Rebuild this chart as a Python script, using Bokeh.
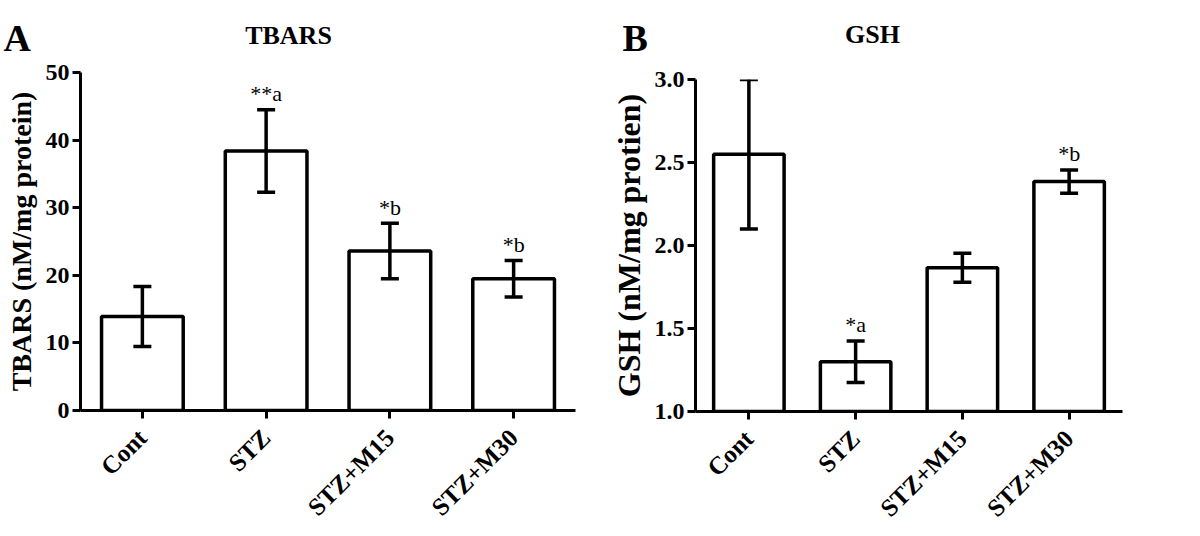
import math
from bokeh.plotting import figure
from bokeh.models import ColumnDataSource, Whisker, TeeHead, FactorRange, Range1d, FixedTicker
from bokeh.layouts import row, column
from bokeh.embed import file_html
from bokeh.resources import INLINE

groups = ["Cont", "STZ", "STZ+M15", "STZ+M30"]
tbars_mean = [13.9, 38.4, 23.6, 19.5]
tbars_sem = [4.45, 6.1, 4.1, 2.7]
tbars_sig = ["", "**a", "*b", "*b"]
gsh_mean = [2.55, 1.30, 1.866, 2.385]
gsh_sem = [0.45, 0.125, 0.087, 0.07]
gsh_sig = ["", "*a", "", "*b"]
tbars_ticks = [0, 10, 20, 30, 40, 50]
gsh_ticks = [1.0, 1.5, 2.0, 2.5, 3.0]

panel_letters = ["A", "B"]
panel_titles = ["TBARS", "GSH"]

FONT = "Liberation Serif"
HEADER_H = 58
MAIN_H = 477


def panel(mean, sem, sig, ticks, ylabel, ylabel_size, width, height,
          bl, br, bt, bb, tick_fmt, label_standoff):
    lower = [m - s for m, s in zip(mean, sem)]
    upper = [m + s for m, s in zip(mean, sem)]
    src = ColumnDataSource(dict(g=groups, mean=mean, lower=lower, upper=upper, sig=sig))
    p = figure(width=width, height=height, x_range=FactorRange(factors=groups),
               y_range=Range1d(ticks[0], ticks[-1]), output_backend="svg",
               toolbar_location=None, min_border_left=bl, min_border_right=br,
               min_border_top=bt, min_border_bottom=bb, frame_align=False)
    p.outline_line_color = None
    p.xgrid.grid_line_color = None
    p.ygrid.grid_line_color = None
    p.x_range.range_padding = 0
    p.vbar(x="g", top="mean", bottom=ticks[0], width=0.66, source=src,
           fill_color="white", line_color="black", line_width=3.5)
    w = Whisker(base="g", upper="upper", lower="lower", source=src,
                line_color="black", line_width=3.5, level="overlay",
                upper_head=TeeHead(size=18, line_width=3.5, line_color="black"),
                lower_head=TeeHead(size=18, line_width=3.5, line_color="black"))
    p.add_layout(w)
    p.text(x="g", y="upper", text="sig", source=src, y_offset=-16,
           text_align="center", text_baseline="alphabetic",
           text_font={"value": FONT}, text_font_size="22px", text_color="black")
    for ax in (p.xaxis[0], p.yaxis[0]):
        ax.axis_line_width = 3
        ax.axis_line_color = "black"
        ax.major_tick_line_width = 3
        ax.major_tick_out = 8
        ax.major_tick_in = 0
        ax.minor_tick_line_color = None
        ax.major_label_text_font = FONT
        ax.major_label_text_font_style = "bold"
        ax.major_label_text_color = "black"
    p.yaxis.major_label_text_font_size = "24px"
    p.yaxis.major_label_standoff = 3
    p.xaxis.major_label_text_font_size = "25px"
    p.xaxis.major_label_standoff = 15
    p.yaxis.ticker = FixedTicker(ticks=ticks)
    p.yaxis.major_label_overrides = {t: tick_fmt.format(t) for t in ticks}
    p.yaxis.axis_label = ylabel
    p.yaxis.axis_label_text_font = FONT
    p.yaxis.axis_label_text_font_style = "bold"
    p.yaxis.axis_label_text_font_size = ylabel_size
    p.yaxis.axis_label_text_color = "black"
    p.yaxis.axis_label_standoff = label_standoff
    p.xaxis.major_label_orientation = math.pi / 4
    return p


# header strip holding the panel letters and titles (pixel-like coordinates)
header = figure(width=1198, height=HEADER_H, x_range=Range1d(0, 1198),
                y_range=Range1d(HEADER_H, 0), output_backend="svg",
                toolbar_location=None, x_axis_location=None, y_axis_location=None,
                min_border=0, outline_line_color=None)
header.xgrid.grid_line_color = None
header.ygrid.grid_line_color = None
header.text(x=[3, 622], y=[37, 37], text=panel_letters, text_font={"value": FONT},
            text_font_style="bold", text_font_size="38px", text_color="black",
            text_align="left", text_baseline="alphabetic")
header.text(x=[288, 872], y=[35, 34], text=panel_titles, text_font={"value": FONT},
            text_font_style="bold", text_font_size="26px", text_color="black",
            text_align="center", text_baseline="alphabetic")

pa = panel(tbars_mean, tbars_sem, tbars_sig, tbars_ticks, "TBARS (nM/mg protein)", "28px",
           600, MAIN_H, 80, 25, 72 - HEADER_H, HEADER_H + MAIN_H - 410, "{:g}", 6)
pb = panel(gsh_mean, gsh_sem, gsh_sig, gsh_ticks, "GSH (nM/mg protien)", "32px",
           598, MAIN_H, 95, 76, 79 - HEADER_H, HEADER_H + MAIN_H - 411, "{:.1f}", 5)

layout = column(header, row(pa, pb))
open("out.html", "w").write(file_html(layout, INLINE))
